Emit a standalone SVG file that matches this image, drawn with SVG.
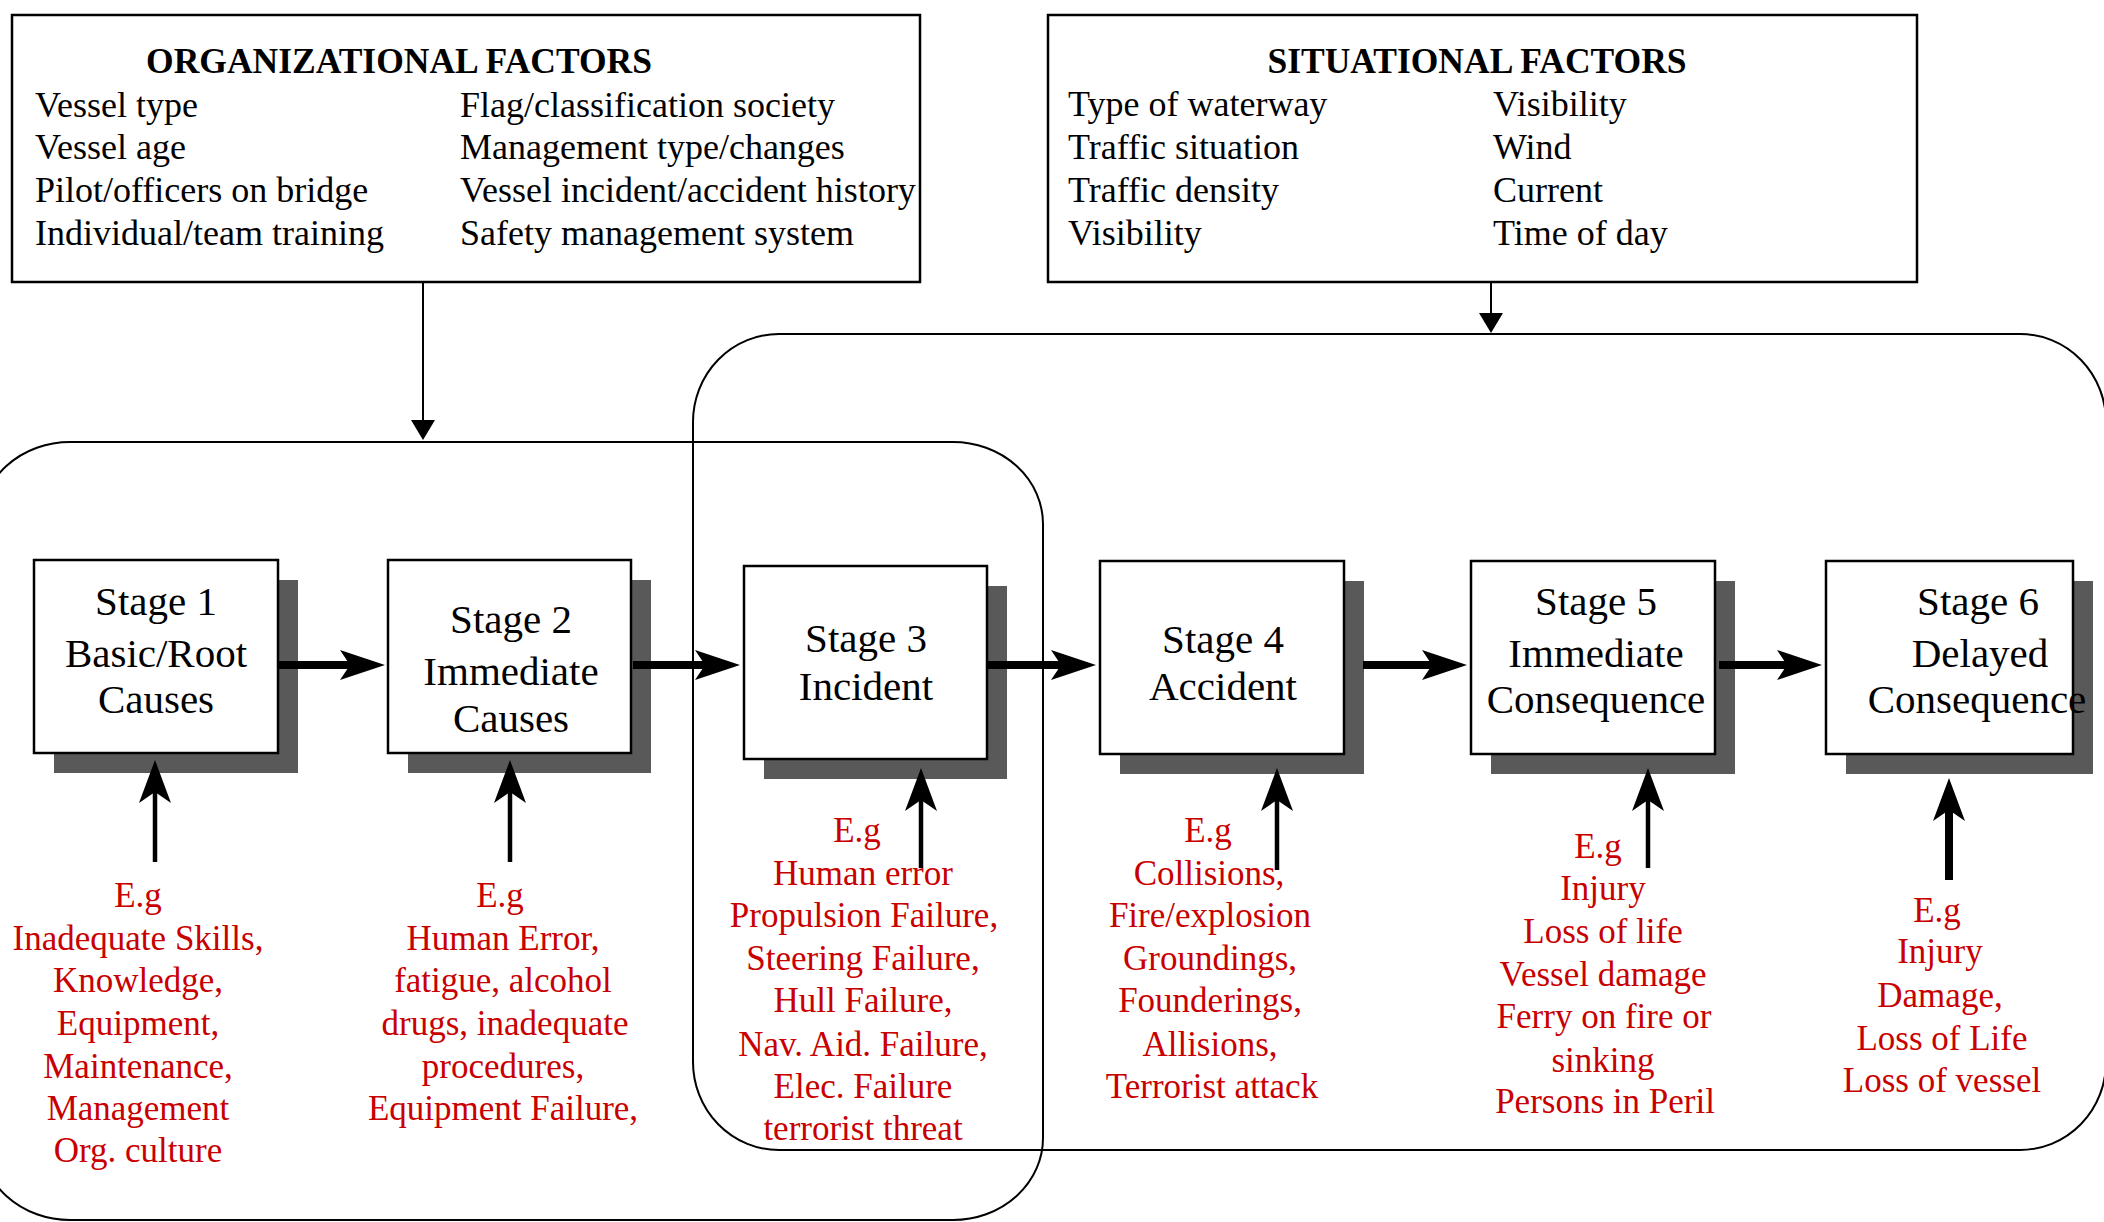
<svg xmlns="http://www.w3.org/2000/svg" width="2104" height="1222" viewBox="0 0 2104 1222">
<style>
.box{fill:#fff;stroke:#000;stroke-width:2.5}
.shadow{fill:#595959}
.region{fill:none;stroke:#000;stroke-width:2}
.t{font-family:"Liberation Serif","Times New Roman",serif;font-size:36px;fill:#000}
.title{font-family:"Liberation Serif","Times New Roman",serif;font-size:35.5px;font-weight:bold;fill:#000;text-anchor:middle}
.st{font-family:"Liberation Serif","Times New Roman",serif;font-size:41px;fill:#000;text-anchor:middle}
.red{font-family:"Liberation Serif","Times New Roman",serif;font-size:35px;fill:#c80000;text-anchor:middle}
.thick{stroke:#000;stroke-width:8;fill:none}
.up{stroke:#000;stroke-width:4.5;fill:none}
.thin{stroke:#000;stroke-width:2;fill:none}
</style>
<defs>
<marker id="hHead" markerUnits="userSpaceOnUse" viewBox="-50 -20 55 40" markerWidth="55" markerHeight="40" refX="-35" refY="0" orient="auto" overflow="visible">
<path d="M0,0 L-45,-15 L-35,0 L-45,15 Z" fill="#000"/>
</marker>
<marker id="vHead" markerUnits="userSpaceOnUse" viewBox="-50 -20 55 40" markerWidth="55" markerHeight="40" refX="-32" refY="0" orient="auto" overflow="visible">
<path d="M0,0 L-43,-16 L-32,0 L-43,16 Z" fill="#000"/>
</marker>
<marker id="tri" markerUnits="userSpaceOnUse" viewBox="-25 -14 27 28" markerWidth="27" markerHeight="28" refX="-20" refY="0" orient="auto" overflow="visible">
<path d="M0,0 L-20,-12 L-20,12 Z" fill="#000"/>
</marker>
</defs>

<g id="regions">
<rect class="region" x="-20" y="442" width="1063" height="778" rx="90" ry="82"/>
<rect class="region" x="693" y="334" width="1413" height="816" rx="86" ry="88"/>
</g>

<g id="org-factors">
<rect class="box" x="12" y="15" width="908" height="267"/>
<text class="title" x="399" y="73">ORGANIZATIONAL FACTORS</text>
<text class="t" x="35" y="117">Vessel type</text>
<text class="t" x="35" y="159">Vessel age</text>
<text class="t" x="35" y="202">Pilot/officers on bridge</text>
<text class="t" x="35" y="245">Individual/team training</text>
<text class="t" x="460" y="117">Flag/classification society</text>
<text class="t" x="460" y="159">Management type/changes</text>
<text class="t" x="460" y="202">Vessel incident/accident history</text>
<text class="t" x="460" y="245">Safety management system</text>
</g>

<g id="sit-factors">
<rect class="box" x="1048" y="15" width="869" height="267"/>
<text class="title" x="1477" y="73">SITUATIONAL FACTORS</text>
<text class="t" x="1068" y="116">Type of waterway</text>
<text class="t" x="1068" y="159">Traffic situation</text>
<text class="t" x="1068" y="202">Traffic density</text>
<text class="t" x="1068" y="245">Visibility</text>
<text class="t" x="1493" y="116">Visibility</text>
<text class="t" x="1493" y="159">Wind</text>
<text class="t" x="1493" y="202">Current</text>
<text class="t" x="1493" y="245">Time of day</text>
</g>

<g id="stage1">
<rect class="shadow" x="54" y="580" width="244" height="193"/>
<rect class="box" x="34" y="560" width="244" height="193"/>
<text class="st" x="156" y="615">Stage 1</text>
<text class="st" x="156" y="667">Basic/Root</text>
<text class="st" x="156" y="713">Causes</text>
</g>
<g id="stage2">
<rect class="shadow" x="408" y="580" width="243" height="193"/>
<rect class="box" x="388" y="560" width="243" height="193"/>
<text class="st" x="511" y="633">Stage 2</text>
<text class="st" x="511" y="685">Immediate</text>
<text class="st" x="511" y="732">Causes</text>
</g>
<g id="stage3">
<rect class="shadow" x="764" y="586" width="243" height="193"/>
<rect class="box" x="744" y="566" width="243" height="193"/>
<text class="st" x="866" y="652">Stage 3</text>
<text class="st" x="866" y="700">Incident</text>
</g>
<g id="stage4">
<rect class="shadow" x="1120" y="581" width="244" height="193"/>
<rect class="box" x="1100" y="561" width="244" height="193"/>
<text class="st" x="1223" y="653">Stage 4</text>
<text class="st" x="1223" y="700">Accident</text>
</g>
<g id="stage5">
<rect class="shadow" x="1491" y="581" width="244" height="193"/>
<rect class="box" x="1471" y="561" width="244" height="193"/>
<text class="st" x="1596" y="615">Stage 5</text>
<text class="st" x="1596" y="667">Immediate</text>
<text class="st" x="1596" y="713">Consequence</text>
</g>
<g id="stage6">
<rect class="shadow" x="1846" y="581" width="247" height="193"/>
<rect class="box" x="1826" y="561" width="247" height="193"/>
<text class="st" x="1978" y="615">Stage 6</text>
<text class="st" x="1980" y="667">Delayed</text>
<text class="st" x="1977" y="713">Consequence</text>
</g>

<g id="examples">
<text class="red" x="138"><tspan x="138" y="907">E.g</tspan><tspan x="138" y="950">Inadequate Skills,</tspan><tspan x="138" y="992">Knowledge,</tspan><tspan x="138" y="1035">Equipment,</tspan><tspan x="138" y="1078">Maintenance,</tspan><tspan x="138" y="1120">Management</tspan><tspan x="138" y="1162">Org. culture</tspan></text>
<text class="red" x="503"><tspan x="500" y="907">E.g</tspan><tspan x="503" y="950">Human Error,</tspan><tspan x="503" y="992">fatigue, alcohol</tspan><tspan x="505" y="1035">drugs, inadequate</tspan><tspan x="503" y="1078">procedures,</tspan><tspan x="503" y="1120">Equipment Failure,</tspan></text>
<text class="red" x="863"><tspan x="857" y="842">E.g</tspan><tspan x="863" y="885">Human error</tspan><tspan x="864" y="927">Propulsion Failure,</tspan><tspan x="863" y="970">Steering Failure,</tspan><tspan x="863" y="1012">Hull Failure,</tspan><tspan x="863" y="1056">Nav. Aid. Failure,</tspan><tspan x="863" y="1098">Elec. Failure</tspan><tspan x="863" y="1140">terrorist threat</tspan></text>
<text class="red" x="1210"><tspan x="1208" y="842">E.g</tspan><tspan x="1209" y="885">Collisions,</tspan><tspan x="1210" y="927">Fire/explosion</tspan><tspan x="1210" y="970">Groundings,</tspan><tspan x="1210" y="1012">Founderings,</tspan><tspan x="1210" y="1056">Allisions,</tspan><tspan x="1212" y="1098">Terrorist attack</tspan></text>
<text class="red" x="1603"><tspan x="1598" y="858">E.g</tspan><tspan x="1603" y="900">Injury</tspan><tspan x="1603" y="943">Loss of life</tspan><tspan x="1603" y="986">Vessel damage</tspan><tspan x="1604" y="1028">Ferry on fire or</tspan><tspan x="1603" y="1072">sinking</tspan><tspan x="1605" y="1113">Persons in Peril</tspan></text>
<text class="red" x="1942"><tspan x="1937" y="922">E.g</tspan><tspan x="1940" y="963">Injury</tspan><tspan x="1940" y="1007">Damage,</tspan><tspan x="1942" y="1050">Loss of Life</tspan><tspan x="1942" y="1092">Loss of vessel</tspan></text>
</g>

<g id="connectors">
<line class="thin" x1="423" y1="282" x2="423" y2="420" marker-end="url(#tri)"/>
<line class="thin" x1="1491" y1="282" x2="1491" y2="313" marker-end="url(#tri)"/>
<line class="thick" x1="277" y1="665" x2="350" y2="665" marker-end="url(#hHead)"/>
<line class="thick" x1="633" y1="665" x2="705" y2="665" marker-end="url(#hHead)"/>
<line class="thick" x1="988" y1="665" x2="1061" y2="665" marker-end="url(#hHead)"/>
<line class="thick" x1="1363" y1="665" x2="1432" y2="665" marker-end="url(#hHead)"/>
<line class="thick" x1="1719" y1="665" x2="1787" y2="665" marker-end="url(#hHead)"/>
<line class="up" x1="155" y1="862" x2="155" y2="792" marker-end="url(#vHead)"/>
<line class="up" x1="510" y1="862" x2="510" y2="792" marker-end="url(#vHead)"/>
<line class="up" x1="921" y1="868" x2="921" y2="800" marker-end="url(#vHead)"/>
<line class="up" x1="1277" y1="870" x2="1277" y2="800" marker-end="url(#vHead)"/>
<line class="up" x1="1648" y1="868" x2="1648" y2="800" marker-end="url(#vHead)"/>
<line class="thick" x1="1949" y1="880" x2="1949" y2="810" marker-end="url(#vHead)"/>
</g>
</svg>
